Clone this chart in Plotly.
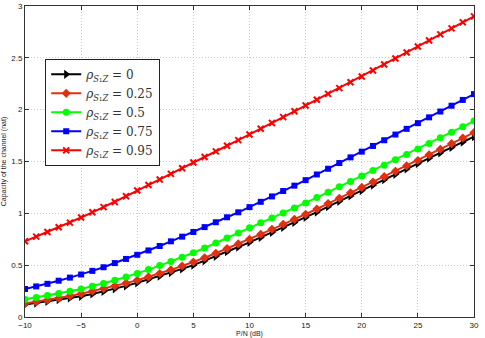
import plotly.graph_objects as go

# P/N in dB, one point per dB
snr_db = list(range(-10, 31))

cap_rho_0 = [0.12, 0.135, 0.151, 0.167, 0.184, 0.20, 0.222, 0.246, 0.272, 0.30,
             0.33, 0.362, 0.395, 0.429, 0.464, 0.50, 0.542, 0.585, 0.63, 0.675,
             0.72, 0.768, 0.816, 0.864, 0.912, 0.96, 1.012, 1.064, 1.116, 1.168,
             1.22, 1.272, 1.324, 1.376, 1.428, 1.48, 1.532, 1.584, 1.636, 1.688, 1.74]
cap_rho_025 = [0.13, 0.147, 0.164, 0.182, 0.203, 0.225, 0.249, 0.274, 0.30, 0.327,
               0.355, 0.387, 0.42, 0.455, 0.492, 0.53, 0.572, 0.615, 0.66, 0.705,
               0.75, 0.798, 0.846, 0.894, 0.942, 0.99, 1.042, 1.094, 1.146, 1.198,
               1.25, 1.302, 1.354, 1.406, 1.458, 1.51, 1.564, 1.618, 1.672, 1.726, 1.78]
cap_rho_05 = [0.17, 0.188, 0.207, 0.227, 0.248, 0.27, 0.296, 0.324, 0.355, 0.387,
              0.42, 0.457, 0.496, 0.536, 0.577, 0.62, 0.666, 0.713, 0.762, 0.811,
              0.86, 0.908, 0.956, 1.004, 1.052, 1.10, 1.152, 1.204, 1.256, 1.308,
              1.36, 1.412, 1.464, 1.516, 1.568, 1.62, 1.674, 1.728, 1.782, 1.836, 1.89]
cap_rho_075 = [0.27, 0.295, 0.32, 0.35, 0.38, 0.41, 0.445, 0.48, 0.52, 0.56,
               0.60, 0.642, 0.685, 0.73, 0.775, 0.82, 0.867, 0.914, 0.962, 1.01,
               1.06, 1.111, 1.163, 1.215, 1.267, 1.32, 1.375, 1.43, 1.485, 1.54,
               1.595, 1.65, 1.705, 1.76, 1.815, 1.87, 1.926, 1.982, 2.038, 2.094, 2.15]
cap_rho_095 = [0.73, 0.775, 0.82, 0.865, 0.91, 0.96, 1.01, 1.06, 1.11, 1.165,
               1.22, 1.273, 1.327, 1.381, 1.435, 1.49, 1.544, 1.598, 1.652, 1.706,
               1.76, 1.816, 1.872, 1.928, 1.984, 2.04, 2.096, 2.152, 2.208, 2.264,
               2.32, 2.378, 2.436, 2.494, 2.552, 2.61, 2.668, 2.726, 2.784, 2.842, 2.90]

rho_labels = ['0', '0.25', '0.5', '0.75', '0.95']
x_ticks = [-10, -5, 0, 5, 10, 15, 20, 25, 30]
y_ticks = [0, 0.5, 1, 1.5, 2, 2.5, 3]

series = [cap_rho_0, cap_rho_025, cap_rho_05, cap_rho_075, cap_rho_095]
colors = ['#000000', '#e0300f', '#00ff00', '#0000ff', '#ff0000']
symbols = ['triangle-right', 'diamond', 'circle', 'square', 'x-thin']
sizes = [8, 7, 7, 6, 6]

fig = go.Figure()
for vals, lab, color, sym, size in zip(series, rho_labels, colors, symbols, sizes):
    fig.add_trace(go.Scatter(
        x=snr_db, y=vals, mode='lines+markers',
        name='<i>ρ</i><sub><i>S</i>₁<i>Z</i></sub> = ' + lab,
        line=dict(color=color, width=2),
        marker=dict(symbol=sym, size=size, color=color,
                    line=dict(width=2 if sym == 'x-thin' else 0, color=color))))

axis_common = dict(
    showline=True, linecolor='#333333', linewidth=1, mirror='allticks',
    ticks='inside', ticklen=4, tickcolor='#333333', automargin=False,
    showgrid=True, gridcolor='#cccccc', griddash='1px,2px', gridwidth=1,
    zeroline=False, tickfont=dict(size=8, color='#222222', family='Liberation Sans'),
)

fig.update_layout(
    width=485, height=338,
    margin=dict(l=25, r=11, t=6, b=21),
    paper_bgcolor='white', plot_bgcolor='white',
    showlegend=True,
    legend=dict(x=0.045, y=0.83, xanchor='left', yanchor='top',
                bgcolor='white', bordercolor='#222222', borderwidth=1,
                font=dict(family='DejaVu Serif', size=12, color='#333333'),
                tracegroupgap=0, itemwidth=30),
    xaxis=dict(axis_common, range=[-10, 30], tickvals=x_ticks,
               title=dict(text='P/N (dB)', font=dict(size=7, color='#222222', family='Liberation Sans'),
                          standoff=2)),
    yaxis=dict(axis_common, range=[0, 3], tickvals=y_ticks,
               title=dict(text='Capacity of the channel (nat)',
                          font=dict(size=7, color='#222222', family='Liberation Sans'), standoff=4)),
)

# drop the page's default body margin so the figure sits at the window origin
fig.write_html("out.html", config={'displayModeBar': False},
               post_script="document.body.style.margin='0';")
